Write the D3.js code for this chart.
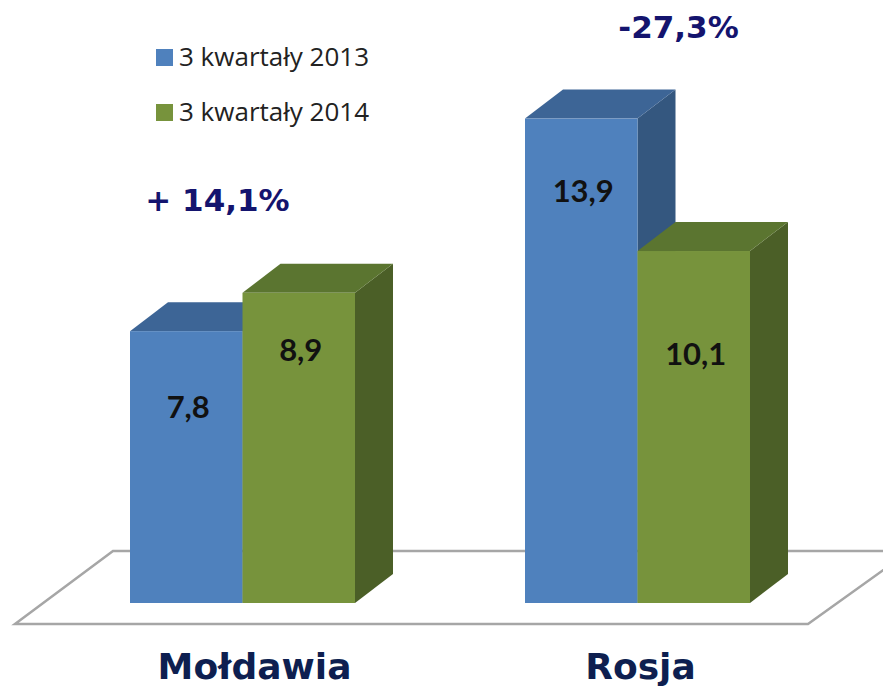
<!DOCTYPE html>
<html>
<head>
<meta charset="utf-8">
<script src="https://cdn.jsdelivr.net/npm/d3@7"></script>
<style>
  body { margin: 0; background: #fff; }
  svg { display: block; }
</style>
</head>
<body>
<div id="chart"></div>
<script>
const categories = ["Mołdawia", "Rosja"];
const seriesNames = ["3 kwartały 2013", "3 kwartały 2014"];
const values2013 = [7.8, 13.9];
const values2014 = [8.9, 10.1];
const valueLabels2013 = ["7,8", "13,9"];
const valueLabels2014 = ["8,9", "10,1"];
const changeLabels = ["+ 14,1%", "-27,3%"];

const width = 883, height = 690;
const depth = {dx: 38, dy: -29};

const fronts = ["#4f81bd", "#77933c"];
const tops   = ["#3d6596", "#5b7530"];
const sides  = ["#34577f", "#4b5f27"];

const svg = d3.select("#chart").append("svg")
    .attr("width", width)
    .attr("height", height);

const y = d3.scaleLinear()
    .domain([0, 14])
    .range([603, 603 - 14 * 34.85]);

const x = d3.scalePoint()
    .domain(categories)
    .range([242.5, 637.5]);

const xs = d3.scaleBand()
    .domain(seriesNames)
    .range([-112.5, 112.5]);

// floor
const fy = y(0);
svg.append("polygon")
    .attr("points", [[15, fy + 21], [113, fy - 52], [910, fy - 52], [808, fy + 21]].map(p => p.join(",")).join(" "))
    .attr("fill", "#fff")
    .attr("stroke", "#a6a6a6")
    .attr("stroke-width", 2.5);

const rows = [];
categories.forEach((c, i) => {
    rows.push({cat: c, s: 0, value: values2013[i], label: valueLabels2013[i]});
    rows.push({cat: c, s: 1, value: values2014[i], label: valueLabels2014[i]});
});

const bars = svg.selectAll("g.bar")
    .data(rows)
  .enter().append("g")
    .attr("class", "bar");

bars.each(function(d) {
    const g = d3.select(this);
    const x0 = x(d.cat) + xs(seriesNames[d.s]);
    const x1 = x0 + xs.bandwidth();
    const yt = y(d.value), yb = y(0);
    const {dx, dy} = depth;
    g.append("polygon")
        .attr("points", [[x1, yt], [x1 + dx, yt + dy], [x1 + dx, yb + dy], [x1, yb]].map(p => p.join(",")).join(" "))
        .attr("fill", sides[d.s]);
    g.append("polygon")
        .attr("points", [[x0, yt], [x0 + dx, yt + dy], [x1 + dx, yt + dy], [x1, yt]].map(p => p.join(",")).join(" "))
        .attr("fill", tops[d.s]);
    g.append("rect")
        .attr("x", x0)
        .attr("y", yt)
        .attr("width", x1 - x0)
        .attr("height", yb - yt)
        .attr("fill", fronts[d.s]);
});

// value labels
const labelDrop = [76, 57, 72, 103];
svg.selectAll("text.val")
    .data(rows)
  .enter().append("text")
    .attr("class", "val")
    .attr("x", d => x(d.cat) + xs(seriesNames[d.s]) + xs.bandwidth() / 2 + 2)
    .attr("y", (d, i) => y(d.value) + labelDrop[i] + 11)
    .attr("text-anchor", "middle")
    .attr("font-family", "Lato, sans-serif")
    .attr("font-weight", "bold")
    .attr("font-size", 31)
    .attr("fill", "#111")
    .text(d => d.label);

// change labels above each group
svg.selectAll("text.chg")
    .data(categories)
  .enter().append("text")
    .attr("class", "chg")
    .attr("x", (d, i) => i === 0 ? x(d) - 25 : x(d) + 41)
    .attr("y", (d, i) => y(d3.max([values2013[i], values2014[i]])) + (i === 0 ? -82 : -81))
    .attr("text-anchor", "middle")
    .attr("font-family", "DejaVu Sans, sans-serif")
    .attr("font-weight", "bold")
    .attr("font-size", 31)
    .attr("fill", "#14146e")
    .text((d, i) => changeLabels[i]);

// category labels
svg.selectAll("text.cat")
    .data(categories)
  .enter().append("text")
    .attr("class", "cat")
    .attr("x", (d, i) => x(d) + (i === 0 ? 12 : 3))
    .attr("y", 679)
    .attr("text-anchor", "middle")
    .attr("font-family", "DejaVu Sans, sans-serif")
    .attr("font-weight", "bold")
    .attr("font-size", 36)
    .attr("fill", "#0e1f50")
    .text(d => d);

// legend
const legend = svg.selectAll("g.legend")
    .data(seriesNames)
  .enter().append("g")
    .attr("class", "legend")
    .attr("transform", (d, i) => "translate(156," + (49 + i * 55) + ")");

legend.append("rect")
    .attr("width", 17)
    .attr("height", 17)
    .attr("fill", (d, i) => fronts[i]);

legend.append("text")
    .attr("x", 23)
    .attr("y", 17)
    .attr("font-family", "Open Sans, sans-serif")
    .attr("font-size", 26)
    .attr("fill", "#222")
    .text(d => d);
</script>
</body>
</html>
